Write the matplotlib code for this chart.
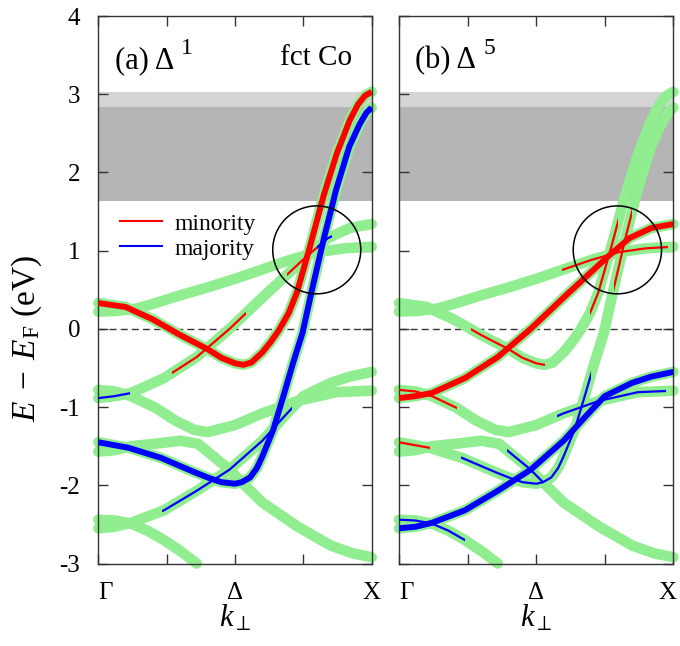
import numpy as np
import matplotlib
matplotlib.use('Agg')
import matplotlib.pyplot as plt
from matplotlib.patches import Ellipse, Rectangle
from matplotlib.lines import Line2D
from matplotlib.transforms import ScaledTranslation

plt.rcParams['font.family'] = ['Liberation Serif', 'DejaVu Serif']
plt.rcParams['mathtext.fontset'] = 'custom'
plt.rcParams['mathtext.rm'] = 'Liberation Serif'
plt.rcParams['mathtext.it'] = 'Liberation Serif:italic'
plt.rcParams['mathtext.bf'] = 'Liberation Serif:bold'
plt.rcParams['axes.unicode_minus'] = False

# bands along Gamma-X (k in units of Gamma-X), energies in eV
d1_min_k = [0, 0.1, 0.2, 0.3, 0.4, 0.45, 0.5, 0.53, 0.56, 0.6, 0.63, 0.66, 0.696, 0.726,
            0.774, 0.823, 0.872, 0.92, 0.95, 0.975, 1.0]
d1_min_e = [0.33, 0.28, 0.12, -0.08, -0.26, -0.37, -0.44, -0.46, -0.43, -0.30, -0.17, -0.02,
            0.20, 0.46, 1.05, 1.69, 2.24, 2.67, 2.87, 2.98, 3.03]

d1_maj_k = [0, 0.11, 0.23, 0.35, 0.4, 0.45, 0.5, 0.525, 0.555, 0.58, 0.6, 0.64, 0.677,
            0.712, 0.747, 0.779, 0.824, 0.870, 0.918, 0.955, 0.98, 1.0]
d1_maj_e = [-1.45, -1.52, -1.65, -1.83, -1.90, -1.96, -1.98, -1.96, -1.90, -1.78, -1.63,
            -1.29, -0.86, -0.44, -0.05, 0.46, 1.14, 1.78, 2.33, 2.61, 2.76, 2.83]

d5_min_k = [0, 0.06, 0.12, 0.24, 0.36, 0.48, 0.6, 0.68, 0.76, 0.84, 0.92, 1.0]
d5_min_e = [-0.885, -0.86, -0.82, -0.63, -0.36, 0.0, 0.40, 0.66, 0.92, 1.16, 1.29, 1.34]

d5_min_b_k = [0, 0.06, 0.12, 0.21, 0.28, 0.35, 0.4, 0.5, 0.6, 0.73, 0.87, 1.0]
d5_min_b_e = [-0.78, -0.80, -0.86, -1.01, -1.17, -1.29, -1.32, -1.23, -1.08, -0.92, -0.81, -0.79]

upper_k = [0, 0.07, 0.14, 0.2, 0.3, 0.4, 0.5, 0.6, 0.7, 0.8, 0.9, 1.0]
upper_e = [0.22, 0.23, 0.26, 0.32, 0.43, 0.53, 0.64, 0.76, 0.88, 0.98, 1.03, 1.05]

d5_maj_k = [0, 0.06, 0.12, 0.24, 0.36, 0.48, 0.6, 0.68, 0.75, 0.85, 0.92, 1.0]
d5_maj_e = [-2.55, -2.53, -2.48, -2.32, -2.07, -1.80, -1.43, -1.12, -0.86, -0.69, -0.61, -0.55]

d5_maj_b_k = [0, 0.06, 0.12, 0.23, 0.3, 0.365, 0.40, 0.48, 0.53, 0.6, 0.73, 0.85, 0.93, 1.0]
d5_maj_b_e = [-1.57, -1.55, -1.50, -1.46, -1.43, -1.47, -1.57, -1.80, -1.98, -2.22, -2.53,
              -2.77, -2.87, -2.92]

low_k = [0, 0.06, 0.12, 0.18, 0.24, 0.3, 0.36]
low_e = [-2.44, -2.45, -2.49, -2.58, -2.70, -2.84, -3.0]

bands = {
    'd1_min': (d1_min_k, d1_min_e),
    'd1_maj': (d1_maj_k, d1_maj_e),
    'd5_min': (d5_min_k, d5_min_e),
    'd5_min_b': (d5_min_b_k, d5_min_b_e),
    'upper': (upper_k, upper_e),
    'd5_maj': (d5_maj_k, d5_maj_e),
    'd5_maj_b': (d5_maj_b_k, d5_maj_b_e),
    'low': (low_k, low_e),
}

# spin-resolved character: (band, k from, k to, spin, strong weight?)
proj_a = [
    ('d1_min', 0, 1, 'minority', True),
    ('d1_maj', 0, 1, 'majority', True),
    ('d5_min', 0.27, 0.54, 'minority', False),
    ('d5_min', 0.69, 0.81, 'minority', False),
    ('d5_min', 0.80, 0.855, 'majority', False),
    ('d5_min', 0, 0.116, 'majority', False),
    ('d5_maj', 0.232, 0.707, 'majority', False),
]
proj_b = [
    ('d5_min', 0, 1, 'minority', True),
    ('d5_maj', 0, 1, 'majority', True),
    ('d5_min_b', 0, 0.21, 'minority', False),
    ('d1_maj', 0, 0.112, 'minority', False),
    ('d1_min', 0.264, 0.531, 'minority', False),
    ('d1_min', 0.696, 0.80, 'minority', False),
    ('d1_maj', 0.785, 0.85, 'minority', False),
    ('upper', 0.593, 0.982, 'minority', False),
    ('low', 0, 0.24, 'majority', False),
    ('d1_maj', 0.227, 0.70, 'majority', False),
    ('d5_maj_b', 0.392, 0.526, 'majority', False),
    ('d5_min_b', 0.575, 0.975, 'majority', False),
]

gap_dark = (1.63, 2.84)
gap_light = (2.84, 3.03)
circle_center = [(0.799, 1.01), (0.796, 1.01)]

spin_color = {'minority': 'red', 'majority': 'blue'}

fig = plt.figure(figsize=(6.8, 6.46), dpi=100)
ax1 = fig.add_axes([0.1446, 0.1277, 0.402, 0.8475])
ax2 = fig.add_axes([0.5868, 0.1277, 0.4034, 0.8475])

for ax, proj, label, sup, cc in [(ax1, proj_a, '(a) Δ', '1', circle_center[0]),
                                 (ax2, proj_b, '(b) Δ', '5', circle_center[1])]:
    ax.axhspan(*gap_dark, color='#b5b5b5', lw=0, zorder=0)
    ax.axhspan(*gap_light, color='#d4d4d4', lw=0, zorder=0)
    ax.axhline(0, color='#333333', lw=1.0, ls=(0, (5, 3)), zorder=1)

    for name, (k, e) in bands.items():
        ax.plot(k, e, color='#90ee90', lw=7.6, solid_capstyle='round',
                solid_joinstyle='round', zorder=2, clip_on=False)

    for name, k0, k1, spin, strong in proj:
        k, e = bands[name]
        line, = ax.plot(k, e, color=spin_color[spin], lw=4.3 if strong else 1.6,
                        solid_capstyle='butt', solid_joinstyle='round',
                        zorder=4 if strong else 3)
        line.set_clip_path(Rectangle((k0, -4), k1 - k0, 9, transform=ax.transData))

    ax.add_patch(Ellipse(cc, 0.322, 1.124, fill=False, ec='black', lw=1.1, zorder=5))

    ax.set_xlim(0, 1)
    ax.set_ylim(-3, 4)
    ax.set_xticks([0, 0.5, 1])
    ax.set_xticklabels(['Γ', 'Δ', 'X'])
    ax.set_xticks([0.25, 0.75], minor=True)
    ax.set_yticks(range(-3, 5))
    ax.tick_params(which='both', direction='in', top=True, right=True, length=7.5,
                   width=1, labelsize=18, pad=13, color='#333333')
    ax.tick_params(axis='x', which='major', pad=13.5)
    ax.tick_params(which='minor', top=True, bottom=True)
    for s in ax.spines.values():
        s.set_linewidth(1.0)
        s.set_color('#333333')
    ax.get_xticklabels()[0].set_horizontalalignment('left')
    ax.set_xlabel(r'$k_{\perp}$', fontsize=22)
    ax.xaxis.set_label_coords(0.5, -0.072)
    t = ax.text(0.06, 3.33, label, fontsize=22, ha='left', va='baseline',
                transform=ax.get_yaxis_transform())
    ax.annotate(sup, xy=(1, 1), xycoords=t, xytext=(5, -5.5),
                textcoords='offset points', fontsize=17, ha='left', va='baseline')

ax2.tick_params(axis='y', labelleft=False)
xl = ax2.get_xticklabels()[2]
xl.set_transform(xl.get_transform() + ScaledTranslation(-4 / 72, 0, fig.dpi_scale_trans))

ax1.text(0.93, 3.37, 'fct Co', fontsize=21, ha='right', va='baseline',
         transform=ax1.get_yaxis_transform())
ax1.set_ylabel(r'$E\;-\;E_{\rm F}$ (eV)', fontsize=24)
ax1.yaxis.set_label_coords(-0.2, 0.41)

handles = [Line2D([], [], color='red', lw=1.5), Line2D([], [], color='blue', lw=1.5)]
ax1.legend(handles, ['minority', 'majority'], loc='center left',
           bbox_to_anchor=(0.079, 0.5975), frameon=False, fontsize=17,
           handlelength=1.8, handletextpad=0.5, labelspacing=0.15,
           borderpad=0, borderaxespad=0)

fig.savefig('out.png', dpi=100)
